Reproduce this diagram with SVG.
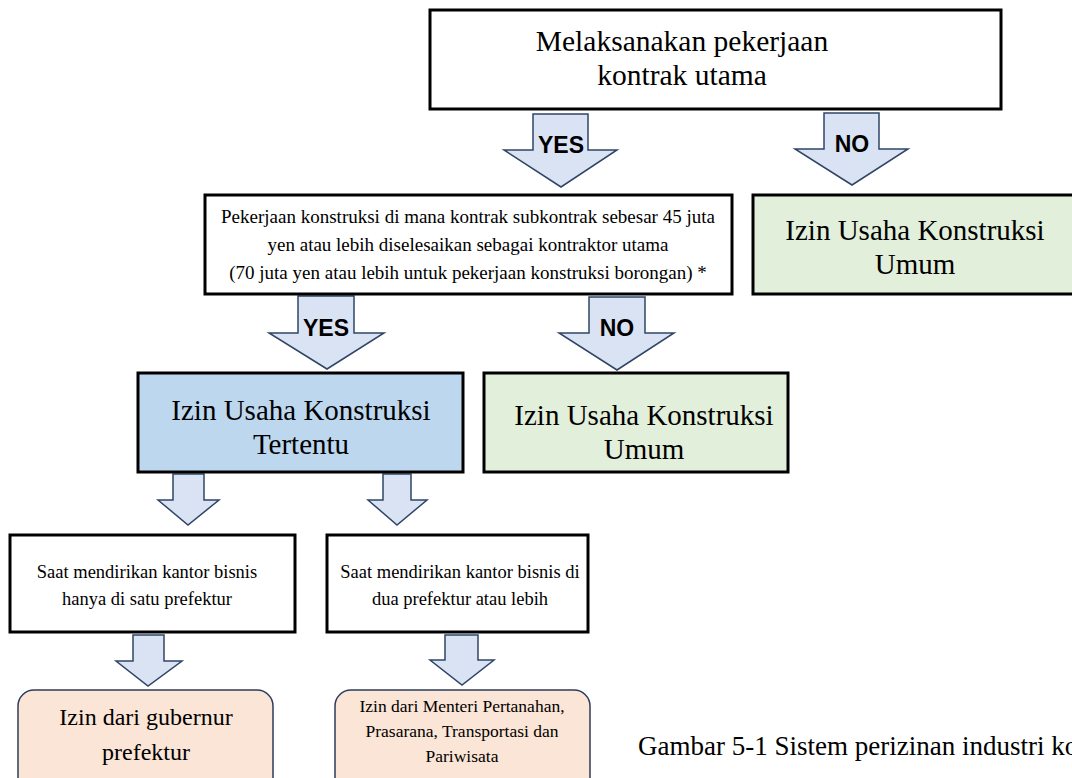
<svg xmlns="http://www.w3.org/2000/svg" width="1072" height="778" viewBox="0 0 1072 778">
  <style>
    .box { stroke: #000; stroke-width: 3; }
    .plain { fill: #fff; }
    .blue { fill: #bdd7ee; }
    .green { fill: #e2efda; }
    .peach { fill: #fbe5d6; stroke: #2b3d5c; stroke-width: 1.5; }
    .arrow { fill: #dae3f3; stroke: #2f4566; stroke-width: 1.5; stroke-linejoin: miter; }
    .t { font-family: "Liberation Serif", "DejaVu Serif", serif; fill: #000; text-anchor: middle; }
    .lbl { font-family: "Liberation Sans", "DejaVu Sans", sans-serif; font-weight: bold; font-size: 23px; fill: #000; text-anchor: middle; }
    .cap { font-family: "Liberation Serif", "DejaVu Serif", serif; fill: #000; font-size: 27px; }
  </style>

  <!-- block arrows between the decision steps -->
  <g id="connectors">
    <polygon class="arrow" points="533,114 588,114 588,150 617,150 561,187 504,150 533,150"/>
    <text class="lbl" x="561" y="153">YES</text>
    <polygon class="arrow" points="824,113 879,113 879,149 908,149 852,185 795,149 824,149"/>
    <text class="lbl" x="852" y="152">NO</text>
    <polygon class="arrow" points="298,296 354,296 354,333 384,333 327,369 269,333 298,333"/>
    <text class="lbl" x="326" y="336">YES</text>
    <polygon class="arrow" points="589,297 645,297 645,333 674,333 617,370 559,333 589,333"/>
    <text class="lbl" x="617" y="336">NO</text>
    <polygon class="arrow" points="173,474 204,474 204,500 219,500 188,525 158,500 173,500"/>
    <polygon class="arrow" points="383,474 411,474 411,500 427,500 397,525 368,500 383,500"/>
    <polygon class="arrow" points="133,635 164,635 164,661 182,661 148,686 116,661 133,661"/>
    <polygon class="arrow" points="445,635 478,635 478,660 494,660 462,685 430,660 445,660"/>
  </g>

  <g id="main-contract">
    <rect class="box plain" x="430" y="10" width="571" height="99"/>
    <text class="t" font-size="29.5" x="682" y="51">Melaksanakan pekerjaan</text>
    <text class="t" font-size="29.5" x="682" y="85">kontrak utama</text>
  </g>

  <g id="subcontract-threshold">
    <rect class="box plain" x="205" y="195" width="527" height="99"/>
    <text class="t" font-size="19" x="468" y="223">Pekerjaan konstruksi di mana kontrak subkontrak sebesar 45 juta</text>
    <text class="t" font-size="19" x="468" y="251">yen atau lebih diselesaikan sebagai kontraktor utama</text>
    <text class="t" font-size="19" x="468" y="279">(70 juta yen atau lebih untuk pekerjaan konstruksi borongan) *</text>
  </g>

  <g id="general-permit-top">
    <rect class="box green" x="753" y="195" width="325" height="99"/>
    <text class="t" font-size="29" x="915" y="240">Izin Usaha Konstruksi</text>
    <text class="t" font-size="29" x="915" y="274">Umum</text>
  </g>

  <g id="specific-permit">
    <rect class="box blue" x="138" y="373" width="325" height="99"/>
    <text class="t" font-size="29" x="301" y="420">Izin Usaha Konstruksi</text>
    <text class="t" font-size="29" x="301" y="454">Tertentu</text>
  </g>

  <g id="general-permit-bottom">
    <rect class="box green" x="484" y="373" width="304" height="99"/>
    <text class="t" font-size="29" x="644" y="425">Izin Usaha Konstruksi</text>
    <text class="t" font-size="29" x="644" y="459">Umum</text>
  </g>

  <g id="single-prefecture">
    <rect class="box plain" x="10" y="535" width="285" height="97"/>
    <text class="t" font-size="18.5" x="147" y="578">Saat mendirikan kantor bisnis</text>
    <text class="t" font-size="18.5" x="147" y="605">hanya di satu prefektur</text>
  </g>

  <g id="multi-prefecture">
    <rect class="box plain" x="327" y="535" width="261" height="97"/>
    <text class="t" font-size="18.5" x="460" y="578">Saat mendirikan kantor bisnis di</text>
    <text class="t" font-size="18.5" x="460" y="605">dua prefektur atau lebih</text>
  </g>

  <g id="governor-permit">
    <rect class="peach" x="18" y="690" width="255" height="110" rx="16"/>
    <text class="t" font-size="24" x="146" y="725">Izin dari gubernur</text>
    <text class="t" font-size="24" x="146" y="760">prefektur</text>
  </g>

  <g id="minister-permit">
    <rect class="peach" x="335" y="690" width="255" height="110" rx="16"/>
    <text class="t" font-size="17.5" x="462" y="712">Izin dari Menteri Pertanahan,</text>
    <text class="t" font-size="17.5" x="462" y="737">Prasarana, Transportasi dan</text>
    <text class="t" font-size="17.5" x="462" y="762">Pariwisata</text>
  </g>

  <text class="cap" x="638" y="755">Gambar 5-1 Sistem perizinan industri ko</text>
</svg>
